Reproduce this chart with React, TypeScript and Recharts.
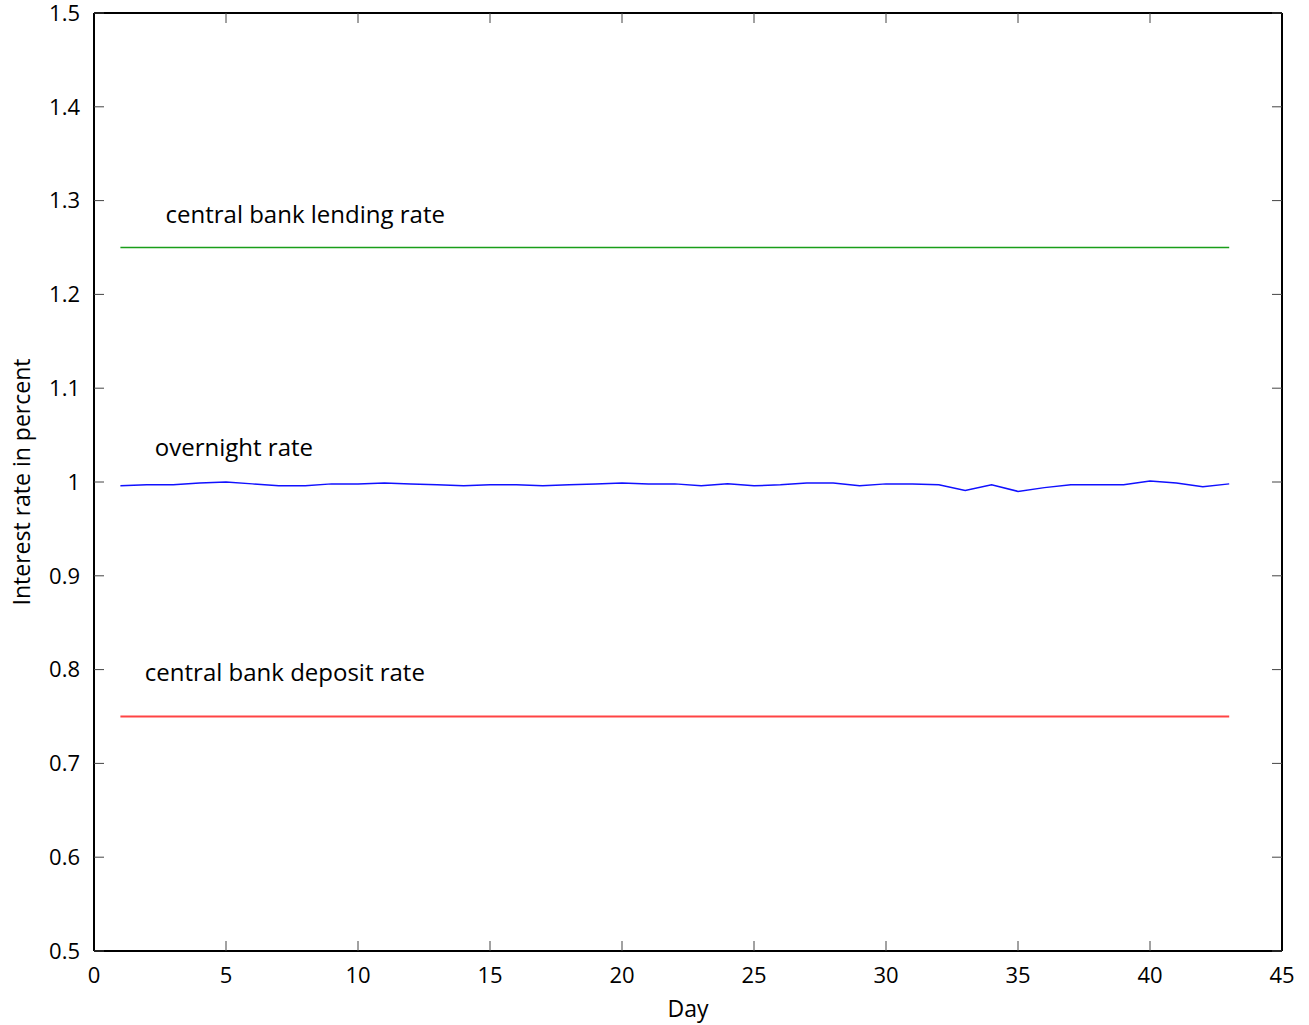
import React from 'react';
import { LineChart, Line, XAxis, YAxis, ReferenceDot, Label } from 'recharts';

const days = [1,2,3,4,5,6,7,8,9,10,11,12,13,14,15,16,17,18,19,20,21,22,23,24,25,26,27,28,29,30,31,32,33,34,35,36,37,38,39,40,41,42,43];
const overnight = [0.996,0.997,0.997,0.999,1.0,0.998,0.996,0.996,0.998,0.998,0.999,0.998,0.997,0.996,0.997,0.997,0.996,0.997,0.998,0.999,0.998,0.998,0.996,0.998,0.996,0.997,0.999,0.999,0.996,0.998,0.998,0.997,0.991,0.997,0.990,0.994,0.997,0.997,0.997,1.001,0.999,0.995,0.998];
const lendingRate = 1.25;
const depositRate = 0.75;
const xTicks = [0,5,10,15,20,25,30,35,40,45];
const yTicks = [0.5,0.6,0.7,0.8,0.9,1.0,1.1,1.2,1.3,1.4,1.5];
const annotations = [
  { text: 'central bank lending rate', x: 8.0, y: 1.2855 },
  { text: 'overnight rate', x: 5.3, y: 1.037 },
  { text: 'central bank deposit rate', x: 7.23, y: 0.797 },
];

const data = days.map((d, i) => ({ day: d, overnight: overnight[i], lending: lendingRate, deposit: depositRate }));

const FONT = '"Open Sans", sans-serif';

const fmtY = (v: number) => {
  const s = v.toFixed(1);
  return s === '1.0' ? '1' : s;
};

export default function App() {
  return (
    <div style={{ position: 'absolute', left: 0, top: 0, width: 1309, height: 1025, background: '#fff', fontFamily: FONT }}>
      <LineChart width={1309} height={1025} data={data} margin={{ top: 12, right: 26, bottom: 44, left: 34 }}>
        <XAxis
          dataKey="day"
          type="number"
          domain={[0, 45]}
          ticks={xTicks}
          allowDataOverflow
          axisLine={{ stroke: '#000', strokeWidth: 2 }}
          tickLine={{ stroke: '#444', strokeWidth: 1 }}
          tickSize={-10}
          tickMargin={26}
          tick={{ fill: '#000', fontSize: 22, fontFamily: FONT }}
          height={30}
        >
          <Label value="Day" position="insideBottom" offset={-36} style={{ fill: '#000', fontSize: 23, fontFamily: FONT }} />
        </XAxis>
        <XAxis
          xAxisId="top"
          orientation="top"
          dataKey="day"
          type="number"
          domain={[0, 45]}
          ticks={xTicks}
          allowDataOverflow
          axisLine={{ stroke: '#000', strokeWidth: 2 }}
          tickLine={{ stroke: '#444', strokeWidth: 1 }}
          tickSize={-10}
          tickFormatter={() => ''}
          height={1}
        />
        <YAxis
          type="number"
          domain={[0.5, 1.5]}
          ticks={yTicks}
          allowDataOverflow
          axisLine={{ stroke: '#000', strokeWidth: 2 }}
          tickLine={{ stroke: '#444', strokeWidth: 1 }}
          tickSize={-10}
          tickMargin={24}
          tickFormatter={fmtY}
          tick={{ fill: '#000', fontSize: 22, fontFamily: FONT }}
          width={60}
        >
          <Label value="Interest rate in percent" angle={-90} position="insideLeft" offset={-12} style={{ fill: '#000', fontSize: 23, fontFamily: FONT, textAnchor: 'middle' }} />
        </YAxis>
        <YAxis
          yAxisId="right"
          orientation="right"
          type="number"
          domain={[0.5, 1.5]}
          ticks={yTicks}
          allowDataOverflow
          axisLine={{ stroke: '#000', strokeWidth: 2 }}
          tickLine={{ stroke: '#444', strokeWidth: 1 }}
          tickSize={-10}
          tickFormatter={() => ''}
          width={1}
        />
        <Line dataKey="lending" stroke="#1a9e1a" strokeWidth={1.5} dot={false} isAnimationActive={false} />
        <Line dataKey="overnight" stroke="#1010ff" strokeWidth={1.5} dot={false} isAnimationActive={false} />
        <Line dataKey="deposit" stroke="#ff4444" strokeWidth={1.8} dot={false} isAnimationActive={false} />
        {annotations.map((a) => (
          <ReferenceDot
            key={a.text}
            x={a.x}
            y={a.y}
            r={0}
            fill="none"
            stroke="none"
            label={{ value: a.text, position: 'center', fill: '#000', fontSize: 24, fontFamily: FONT }}
          />
        ))}
      </LineChart>
    </div>
  );
}
